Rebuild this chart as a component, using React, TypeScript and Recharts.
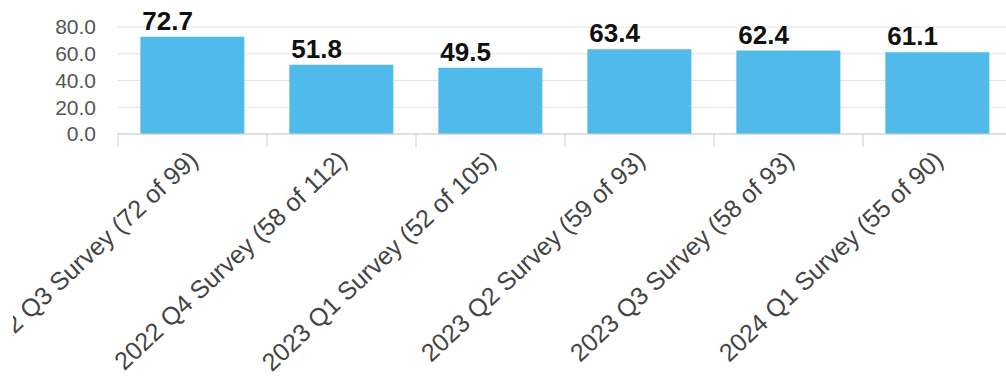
import { Bar, BarChart, CartesianGrid, LabelList, XAxis, YAxis } from "recharts";

const surveys = [
  "2022 Q3 Survey (72 of 99)",
  "2022 Q4 Survey (58 of 112)",
  "2023 Q1 Survey (52 of 105)",
  "2023 Q2 Survey (59 of 93)",
  "2023 Q3 Survey (58 of 93)",
  "2024 Q1 Survey (55 of 90)",
];
const percentages = [72.7, 51.8, 49.5, 63.4, 62.4, 61.1];
const yTicks = [0, 20, 40, 60, 80];

const data = surveys.map((survey, i) => ({ survey, value: percentages[i] }));

const font = '"Liberation Sans", Arial, Helvetica, sans-serif';

function SurveyTick({
  x,
  y,
  payload,
}: {
  x?: number;
  y?: number;
  payload?: { value: string; offset?: number };
}) {
  if (x == null || y == null || !payload) return null;
  const half = payload.offset ?? 0;
  const tx = x + 7;
  const ty = y + 28;
  return (
    <g>
      <line x1={x - half} x2={x - half} y1={y} y2={y + 13} stroke="#cfcfcf" />
      <text
        x={tx}
        y={ty}
        textAnchor="end"
        transform={`rotate(-43, ${tx}, ${ty})`}
        fill="#444"
        fontSize={25}
        fontFamily={font}
      >
        {payload.value}
      </text>
    </g>
  );
}

function ValueLabel(props: {
  x?: number | string;
  y?: number | string;
  value?: number | string;
}) {
  const x = Number(props.x);
  const y = Number(props.y);
  return (
    <text
      x={x + 2}
      y={y - 7}
      fill="#111"
      fontSize={26}
      fontWeight="bold"
      fontFamily={font}
    >
      {Number(props.value).toFixed(1)}
    </text>
  );
}

export default function App() {
  // the source chart is cropped on the left, cutting into the first label
  return (
    <div
      style={{
        position: "fixed",
        left: 13,
        top: 0,
        width: 993,
        height: 381,
        overflow: "hidden",
        background: "#fff",
      }}
    >
      <BarChart
        width={1027}
        height={381}
        data={data}
        barCategoryGap="15%"
        margin={{ top: 27, right: 28, bottom: 0, left: 0 }}
      >
        <CartesianGrid vertical={false} stroke="#e4e4e4" />
        <XAxis
          dataKey="survey"
          interval={0}
          height={247}
          axisLine={{ stroke: "#cfcfcf" }}
          tickLine={false}
          tickSize={0}
          tickMargin={0}
          tick={<SurveyTick />}
        />
        <YAxis
          domain={[0, 80]}
          ticks={yTicks}
          interval={0}
          width={105}
          axisLine={false}
          tickLine={false}
          tickSize={0}
          tickMargin={22}
          tickFormatter={(v: number) => v.toFixed(1)}
          tick={{ fill: "#555", fontSize: 21, fontFamily: font }}
        />
        <Bar dataKey="value" fill="#50baea" isAnimationActive={false}>
          <LabelList dataKey="value" content={<ValueLabel />} />
        </Bar>
      </BarChart>
    </div>
  );
}
